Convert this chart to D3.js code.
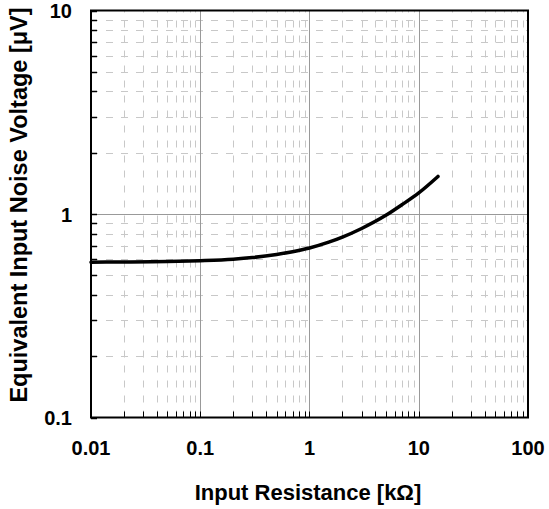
<!DOCTYPE html>
<html><head><meta charset="utf-8">
<script src="https://cdn.jsdelivr.net/npm/d3@7"></script>
<style>body{margin:0;background:#fff}svg{display:block}text{font-family:"Liberation Sans",Arial,sans-serif;font-weight:bold;fill:#000}</style>
</head><body><svg id="c" width="549" height="509"></svg>
<script>
const resistance = [0.01,0.02,0.05,0.1,0.2,0.3,0.5,0.7,1,1.5,2,3,5,7,10,15];
const noise      = [0.58,0.581,0.584,0.59,0.6,0.611,0.633,0.653,0.681,0.727,0.77,0.849,0.985,1.11,1.27,1.53];
const xTicks = [0.01,0.1,1,10,100];
const xTickLabels = ["0.01","0.1","1","10","100"];
const yTicks = [0.1,1,10];
const yTickLabels = ["0.1","1","10"];
const xTitle = "Input Resistance [kΩ]";
const yTitle = "Equivalent Input Noise Voltage [μV]";

const svg = d3.select("#c");
const L=91, R=528, T=10.5, B=417.5;
const x = d3.scaleLog().domain([0.01,100]).range([L,R]);
const y = d3.scaleLog().domain([0.1,10]).range([B,T]);

function minors(lo, hi){ const out=[]; for(let d=lo; d<hi-1e-12; d*=10){ for(let k=2;k<=9;k++) out.push(d*k);} return out; }
const xMin = minors(0.01,100), yMin = minors(0.1,10);

const g = svg.append("g");
// minor grid
g.selectAll("line.xm").data(xMin).join("line")
 .attr("x1",d=>Math.round(x(d))+0.5).attr("x2",d=>Math.round(x(d))+0.5).attr("y1",B).attr("y2",T)
 .attr("stroke","#c8c8c8").attr("stroke-width",1).attr("stroke-dasharray","7,8");
g.selectAll("line.ym").data(yMin).join("line")
 .attr("y1",d=>Math.round(y(d))+0.5).attr("y2",d=>Math.round(y(d))+0.5).attr("x1",L).attr("x2",R)
 .attr("stroke","#c8c8c8").attr("stroke-width",1).attr("stroke-dasharray","7,8");
// major grid
g.selectAll("line.xM").data(xTicks.slice(1,-1)).join("line")
 .attr("x1",d=>Math.round(x(d))+0.5).attr("x2",d=>Math.round(x(d))+0.5).attr("y1",B).attr("y2",T)
 .attr("stroke","#999").attr("stroke-width",1);
g.selectAll("line.yM").data(yTicks.slice(1,-1)).join("line")
 .attr("y1",d=>Math.round(y(d))+0.5).attr("y2",d=>Math.round(y(d))+0.5).attr("x1",L).attr("x2",R)
 .attr("stroke","#999").attr("stroke-width",1);

// ticks inside
g.selectAll("line.xt").data(xMin.concat(xTicks)).join("line")
 .attr("x1",d=>Math.round(x(d))+0.5).attr("x2",d=>Math.round(x(d))+0.5).attr("y1",B).attr("y2",B-6)
 .attr("stroke","#000").attr("stroke-width",1);
g.selectAll("line.yt").data(yMin.concat(yTicks)).join("line")
 .attr("y1",d=>Math.round(y(d))+0.5).attr("y2",d=>Math.round(y(d))+0.5).attr("x1",L).attr("x2",L+6)
 .attr("stroke","#000").attr("stroke-width",1.5);

// frame
g.append("rect").attr("x",L).attr("y",T).attr("width",R-L).attr("height",B-T)
 .attr("fill","none").attr("stroke","#000").attr("stroke-width",2);

// curve
const line = d3.line().x((d,i)=>x(resistance[i])).y(d=>y(d)).curve(d3.curveMonotoneX);
g.append("path").attr("d",line(noise)).attr("fill","none").attr("stroke","#000")
 .attr("stroke-width",3.5).attr("stroke-linecap","round").attr("stroke-linejoin","round");

// tick labels
g.selectAll("text.xl").data(xTicks).join("text")
 .attr("x",d=>x(d)).attr("y",455).attr("text-anchor","middle").attr("font-size",20)
 .text((d,i)=>xTickLabels[i]);
g.selectAll("text.yl").data(yTicks).join("text")
 .attr("x",72).attr("y",d=>y(d)+7.5).attr("text-anchor","end").attr("font-size",20)
 .text((d,i)=>yTickLabels[i]);

// titles
svg.append("text").attr("x",308).attr("y",500).attr("text-anchor","middle").attr("font-size",22).text(xTitle);
svg.append("text").attr("transform","translate(27,205) rotate(-90)").attr("text-anchor","middle").attr("font-size",23.5).text(yTitle);
</script></body></html>
